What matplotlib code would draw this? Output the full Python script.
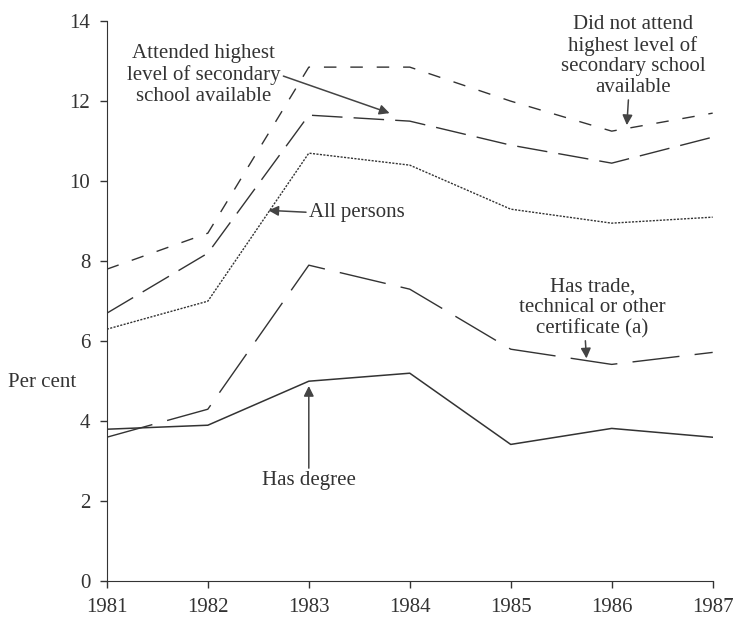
import matplotlib.pyplot as plt

plt.rcParams['font.family'] = ['Liberation Serif', 'DejaVu Serif']

# data (per cent)
years = [1981, 1982, 1983, 1984, 1985, 1986, 1987]
did_not_attend = [7.8, 8.7, 12.85, 12.85, 12.0, 11.25, 11.7]
attended = [6.7, 8.2, 11.65, 11.5, 10.9, 10.45, 11.1]
all_persons = [6.3, 7.0, 10.7, 10.4, 9.3, 8.95, 9.1]
trade_cert = [3.6, 4.3, 7.9, 7.3, 5.8, 5.42, 5.72]
has_degree = [3.8, 3.9, 5.0, 5.2, 3.42, 3.82, 3.6]

ink = '#333333'

fig = plt.figure(figsize=(7.37, 6.21), dpi=100)
ax = fig.add_axes([0.145, 0.064, 0.822, 0.902])

ax.plot(years, did_not_attend, color=ink, lw=1.0, linestyle=(0, (9, 10)))
ax.plot(years, attended, color=ink, lw=1.0, linestyle=(0, (22, 8)))
ax.plot(years, all_persons, color=ink, lw=1.0, linestyle=(0, (1.5, 1)))
ax.plot(years, trade_cert, color=ink, lw=1.0, linestyle=(0, (34, 11)))
ax.plot(years, has_degree, color=ink, lw=1.1)

ax.set_xlim(1981, 1987)
ax.set_ylim(0, 14)
ax.set_xticks(years)
ax.set_yticks([0, 2, 4, 6, 8, 10, 12, 14])
ax.tick_params(labelsize=15, colors=ink, length=5, width=1, pad=7)
for side in ['top', 'right']:
    ax.spines[side].set_visible(False)
for side in ['left', 'bottom']:
    ax.spines[side].set_color(ink)

ax.set_ylabel('Per cent', fontsize=15, color=ink, rotation=0, va='center', ha='center')
ax.yaxis.set_label_coords(-0.107, 0.355)

arrow = dict(arrowstyle='-|>', color='#444444', lw=1.1, mutation_scale=15, shrinkA=0, shrinkB=0)
txt = dict(fontsize=15, color=ink, ha='center', linespacing=1.12)

ax.annotate('Attended highest\nlevel of secondary\nschool available',
            xy=(1983.8, 11.7), xytext=(1981.96, 12.65), va='center',
            arrowprops=dict(arrow, relpos=(1.0, 0.5)), **txt)
ax.annotate('All persons', xy=(1982.6, 9.27), xytext=(1983.0, 9.22),
            va='center', ha='left', fontsize=15, color=ink,
            arrowprops=dict(arrow, relpos=(0.0, 0.5)))
ax.annotate('Did not attend\nhighest level of\nsecondary school\navailable',
            xy=(1986.15, 11.4), xytext=(1986.21, 12.1), va='bottom',
            arrowprops=dict(arrow, relpos=(0.47, 0.0)), **txt)
ax.annotate('Has trade,\ntechnical or other\ncertificate (a)',
            xy=(1985.75, 5.57), xytext=(1985.81, 6.08), va='bottom',
            arrowprops=dict(arrow, relpos=(0.45, 0.0)), **txt)
ax.annotate('Has degree', xy=(1983.0, 4.88), xytext=(1983.0, 2.52), va='center',
            arrowprops=dict(arrow, relpos=(0.5, 1.0)), **txt)

fig.savefig('out.png', dpi=100)
